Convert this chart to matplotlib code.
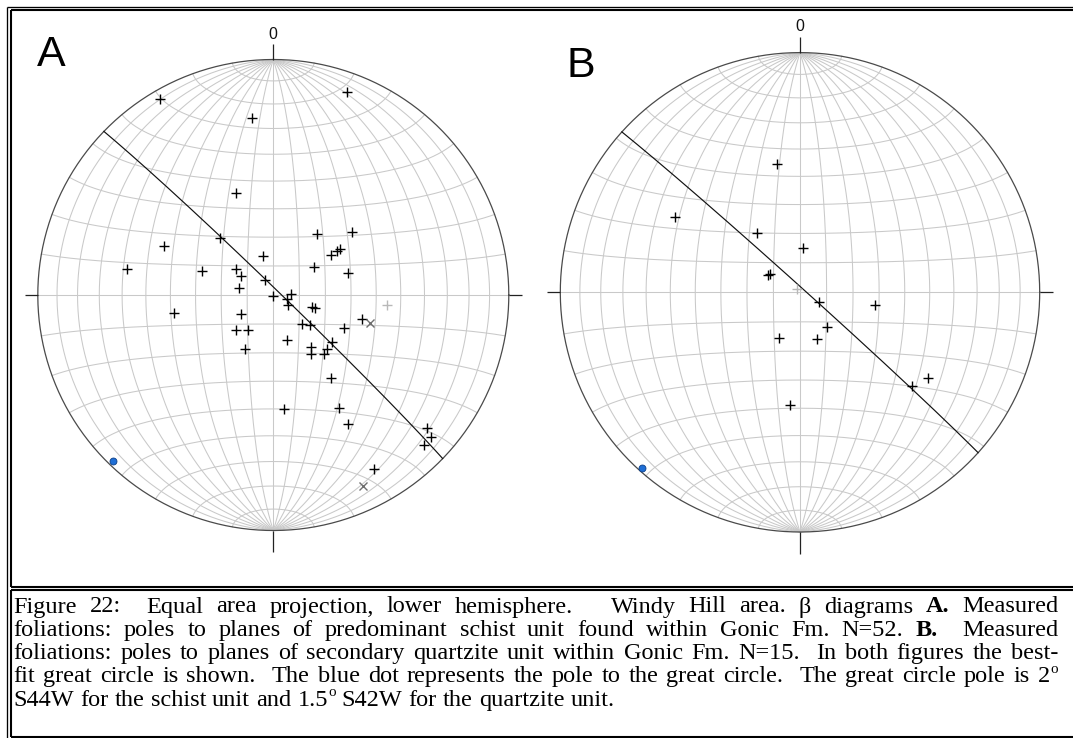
import re
import numpy as np
import matplotlib
matplotlib.use("Agg")
import matplotlib.pyplot as plt

W, H = 1073, 738

# ---------------- data (poles to foliation: trend, plunge in degrees) ----------------
a_trend = [329.9, 20.0, 353.0, 340.0, 294.0, 280.1, 259.7, 149.8, 207.9,
           316.8, 35.4, 51.4, 345.3, 55.2, 55.3, 55.1, 288.9, 305.0, 55.2,
           73.7, 300.1, 331.9, 281.2, 180.0, 86.8, 107.8, 124.5, 107.1, 107.7,
           240.2, 105.0, 135.3, 129.3, 114.9, 227.1, 215.6,
           162.6, 144.1, 147.4, 135.3, 139.6, 128.4, 145.0, 174.8, 149.8,
           150.0, 130.9, 132.0, 134.9]
a_plunge = [4.2, 9.2, 25.2, 52.0, 48.0, 36.9, 54.9, 15.8, 68.9,
            63.0, 64.0, 54.9, 76.0, 61.8, 63.0, 65.6, 64.0, 74.2, 72.9,
            62.9, 77.1, 84.1, 78.0, 89.8, 83.9, 85.2, 83.7, 75.9, 74.9,
            77.0, 58.0, 75.8, 73.6, 62.8, 72.3, 75.2,
            73.8, 67.9, 65.7, 63.6, 63.0, 63.9, 54.7, 49.9, 43.8,
            36.7, 14.6, 10.7, 10.7]
a_x_trend = [106.2, 154.8]
a_x_plunge = [54.7, 11.1]
a_grey_trend = [95.2]
a_grey_plunge = [49.8]
a_gc_pole = (224.0, 2.0)      # 2 deg S44W

b_trend = [349.9, 301.2, 324.0, 3.7, 301.6, 297.5, 117.6, 99.9, 141.8,
           204.4, 160.0, 123.9, 130.0, 184.9]
b_plunge = [44.9, 39.0, 65.0, 74.9, 77.9, 77.6, 82.8, 64.0, 75.1,
            73.0, 73.0, 35.9, 38.8, 51.0]
b_grey_trend = [317.3]
b_grey_plunge = [88.3]
b_gc_pole = (222.0, 1.5)      # 1.5 deg S42W

panel_labels = ["A", "B"]
north_label = "0"

caption_lines = [
    "Figure 22:  Equal area projection, lower hemisphere.   Windy Hill area. \u03b2 diagrams **A.** Measured",
    "foliations: poles to planes of predominant schist unit found within Gonic Fm. N=52. **B.**  Measured",
    "foliations: poles to planes of secondary quartzite unit within Gonic Fm. N=15.  In both figures the best-",
    "fit great circle is shown.  The blue dot represents the pole to the great circle.  The great circle pole is 2^o",
    "S44W for the schist unit and 1.5^o S42W for the quartzite unit.",
]

# ---------------- projection helpers (Lambert equal area, lower hemisphere) ----------------
def proj(E, N, D):
    s = np.sqrt(1.0 + D)
    return E / s, N / s


def vec(trend, plunge):
    t = np.radians(np.asarray(trend, float))
    p = np.radians(np.asarray(plunge, float))
    return np.cos(p) * np.sin(t), np.cos(p) * np.cos(t), np.sin(p)


def line_xy(trend, plunge):
    return proj(*vec(trend, plunge))


MER_STEP = 9
LAT_STEP = 10
GRID_C = "#c9c9c9"


def draw_net(ax, data, grey, xs, gc_pole):
    phi = np.radians(np.linspace(-90, 90, 721))
    for lam in np.arange(-90 + MER_STEP, 90, MER_STEP):
        l = np.radians(lam)
        E = np.cos(phi) * np.sin(l)
        N = np.sin(phi)
        D = np.cos(phi) * np.cos(l)
        x, y = proj(E, N, D)
        ax.plot(x, y, color=GRID_C, lw=0.75, zorder=1)
    lamv = np.radians(np.linspace(-90, 90, 721))
    for ph in np.arange(-90 + LAT_STEP, 90, LAT_STEP):
        p = np.radians(ph)
        E = np.cos(p) * np.sin(lamv)
        N = np.full_like(lamv, np.sin(p))
        D = np.cos(p) * np.cos(lamv)
        x, y = proj(E, N, D)
        ax.plot(x, y, color=GRID_C, lw=0.75, zorder=1)
    # primitive
    th = np.linspace(0, 2 * np.pi, 720)
    ax.plot(np.cos(th), np.sin(th), color="#4a4a4a", lw=0.9, zorder=2)
    # ticks
    tk = dict(color="#222222", lw=0.9, zorder=2, solid_capstyle="butt")
    ax.plot([-1.055, -1.0], [0, 0], **tk)
    ax.plot([1.0, 1.055], [0, 0], **tk)
    ax.plot([0, 0], [1.0, 1.065], **tk)
    ax.plot([0, 0], [-1.0, -1.09], **tk)
    ax.text(0, 1.108, north_label, ha="center", va="center", fontsize=11.5,
            family="Liberation Sans", color="#111111")
    # best-fit great circle from its pole
    tp, pp = gc_pole
    n = np.array(vec(tp, pp), float)
    a = np.array([np.sin(np.radians(tp + 90)), np.cos(np.radians(tp + 90)), 0.0])
    b = np.cross(n, a)
    if b[2] < 0:
        b = -b
    t = np.linspace(0, np.pi, 400)
    v = np.outer(np.cos(t), a) + np.outer(np.sin(t), b)
    gx, gy = proj(v[:, 0], v[:, 1], np.clip(v[:, 2], 0, None))
    ax.plot(gx, gy, color="#111111", lw=0.85, zorder=3)
    # data
    x, y = line_xy(*data)
    ax.plot(x, y, "+", color="black", ms=6.5, mew=1.0, zorder=4)
    if grey is not None:
        x, y = line_xy(*grey)
        ax.plot(x, y, "+", color="#b8b8b8", ms=6.5, mew=1.0, zorder=4)
    if xs is not None:
        x, y = line_xy(*xs)
        ax.plot(x, y, "x", color="#6e6e6e", ms=5.5, mew=1.0, zorder=4)
    # pole of the great circle (blue dot)
    x, y = line_xy(tp, pp)
    ax.plot([x], [y], "o", ms=5, mfc="#1f6fd6", mec="#0d3f86", mew=0.6, zorder=5)


fig = plt.figure(figsize=(W / 100, H / 100), dpi=100)
fig.patch.set_facecolor("white")

bg = fig.add_axes([0, 0, 1, 1])
bg.set_xlim(0, W)
bg.set_ylim(H, 0)
bg.axis("off")

# table-like frame
thin = dict(color="black", lw=0.95, solid_capstyle="butt")
thick = dict(color="black", lw=1.5, solid_capstyle="butt")
bg.plot([7, W], [6.5, 6.5], **thin)
bg.plot([7, 7], [6.5, H], **thin)
bg.plot([10.8, W], [10.2, 10.2], **thick)
bg.plot([10.8, 10.8], [10.2, 587], **thick)
bg.plot([10.8, W], [587, 587], **thick)
bg.plot([10.8, W], [590.3, 590.3], **thick)
bg.plot([10.8, 10.8], [590.3, 736.5], **thick)
bg.plot([10.8, W], [736.5, 736.5], **thick)

# panel letters
bg.text(36.5, 65.5, panel_labels[0], fontsize=31, family="Liberation Sans",
        va="baseline", ha="left")
bg.text(566.5, 76.8, panel_labels[1], fontsize=31, family="Liberation Sans",
        va="baseline", ha="left")

# nets
L = 1.16
nets = [
    (273.3, 295.0, 235.5, (a_trend, a_plunge), (a_grey_trend, a_grey_plunge),
     (a_x_trend, a_x_plunge), a_gc_pole),
    (800.0, 292.3, 239.7, (b_trend, b_plunge), (b_grey_trend, b_grey_plunge),
     None, b_gc_pole),
]
for cx, cy, R, data, grey, xs, gcp in nets:
    ax = fig.add_axes([(cx - L * R) / W, 1 - (cy + L * R) / H,
                       2 * L * R / W, 2 * L * R / H])
    ax.set_xlim(-L, L)
    ax.set_ylim(-L, L)
    ax.axis("off")
    ax.patch.set_alpha(0)
    draw_net(ax, data, grey, xs, gcp)

# ---------------- justified caption ----------------
FS = 17.5
FAM = "Liberation Serif"
renderer = fig.canvas.get_renderer()


def width(t):
    return t.get_window_extent(renderer=renderer).width


probe1 = bg.text(0, -50, "a a", fontsize=FS, family=FAM)
probe2 = bg.text(0, -50, "aa", fontsize=FS, family=FAM)
space_w = width(probe1) - width(probe2)
probe1.remove()
probe2.remove()

x_left, x_right = 13.5, 1058.0
base0, step = 612.5, 23.3
em_px = FS * 100 / 72.0

for i, line in enumerate(caption_lines):
    parts = re.split(r"( +)", line)
    words, gaps = [], []
    for p in parts:
        if p == "":
            continue
        if p.startswith(" "):
            gaps.append(len(p))
        else:
            words.append(p)
    y = base0 + i * step
    items = []
    for w in words:
        bold = w.startswith("**") and w.endswith("**")
        core = w.strip("*") if bold else w
        if "^" in core:
            main, sup = core.split("^")
            t1 = bg.text(0, y, main, fontsize=FS, family=FAM, va="baseline")
            t2 = bg.text(0, y - 0.38 * em_px, sup, fontsize=FS * 0.62,
                         family=FAM, va="baseline")
            pieces = [(t1, width(t1)), (t2, width(t2))]
        else:
            t1 = bg.text(0, y, core, fontsize=FS, family=FAM, va="baseline",
                         fontweight="bold" if bold else "normal")
            pieces = [(t1, width(t1))]
        items.append(pieces)
    total_words = sum(sum(wd for _, wd in pcs) for pcs in items)
    nsp = sum(gaps)
    if i < len(caption_lines) - 1 and nsp > 0:
        extra = (x_right - x_left - total_words - nsp * space_w) / nsp
    else:
        extra = 0.0
    x = x_left
    for k, pcs in enumerate(items):
        for t, wd in pcs:
            t.set_x(x)
            x += wd
        if k < len(gaps):
            x += gaps[k] * (space_w + extra)

fig.savefig("out.png", dpi=100, facecolor="white")
